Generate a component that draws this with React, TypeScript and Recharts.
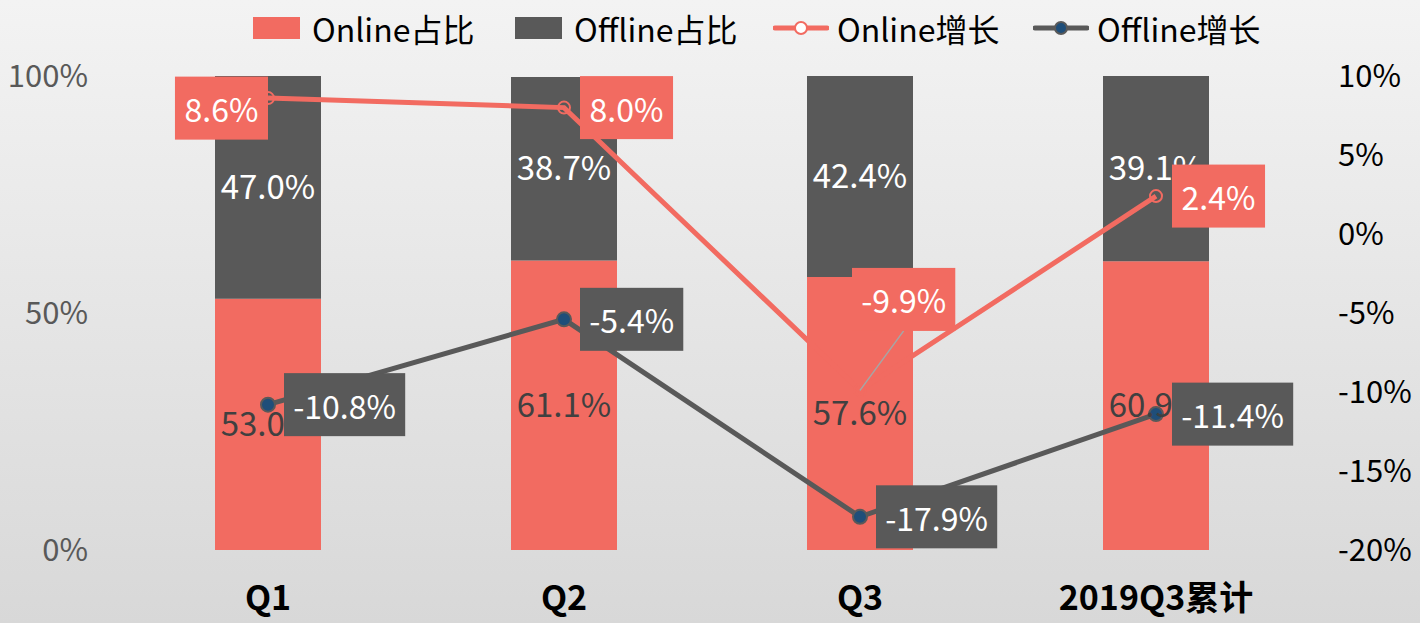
import React from "react";
import { ComposedChart, Bar, Line, XAxis, YAxis, LabelList, Legend } from "recharts";

const quarters = ["Q1", "Q2", "Q3", "2019Q3累计"];
const onlineShare = [53.0, 61.1, 57.6, 60.9];
const offlineShare = [47.0, 38.7, 42.4, 39.1];
const onlineGrowth = [8.6, 8.0, -9.9, 2.4];
const offlineGrowth = [-10.8, -5.4, -17.9, -11.4];
const shareTicks = [0, 50, 100];
const growthTicks = [-20, -15, -10, -5, 0, 5, 10];

const data = quarters.map((q, i) => ({
  name: q,
  onlineShare: onlineShare[i],
  offlineShare: offlineShare[i],
  onlineGrowth: onlineGrowth[i],
  offlineGrowth: offlineGrowth[i],
}));

const SALMON = "#f26b61";
const DARK = "#595959";
const BLUE = "#1f4e79";
const FONT = '"Noto Sans CJK SC", "Noto Sans", sans-serif';

// rough glyph widths (em) for the label boxes
const textWidth = (s: string, size: number) => {
  let w = 0;
  for (const c of s) {
    if (/[0-9]/.test(c)) w += 0.56;
    else if (c === ".") w += 0.26;
    else if (c === "%") w += 0.84;
    else if (c === "-") w += 0.32;
    else w += 0.6;
  }
  return w * size;
};

const pct = (v: number) => `${Number(v).toFixed(1)}%`;

const makeGrowthLabel = (bg: string, series: "on" | "off") => (props: any) => {
  const { x, y, value, index } = props;
  const text = pct(value);
  const w = textWidth(text, 32) + 22;
  const h = 63;
  let left = x + 16;
  let cy = y;
  let leader = false;
  if (series === "on" && index === 0) {
    left = x - w;
    cy = y + 10;
  }
  if (series === "on" && index === 2) {
    left = x - 8;
    cy = y - 91;
    leader = true;
  }
  return (
    <g>
      {leader && (
        <line x1={x} y1={y} x2={left + w / 2} y2={cy + h / 2} stroke="#a6a6a6" strokeWidth={1.5} />
      )}
      <rect x={left} y={cy - h / 2} width={w} height={h} fill={bg} />
      <text
        x={left + w / 2}
        y={cy}
        fill="#fff"
        fontSize={32}
        fontFamily={FONT}
        textAnchor="middle"
        dominantBaseline="central"
      >
        {text}
      </text>
    </g>
  );
};

const LegendBox = () => {
  const item = (left: number, marker: React.ReactNode, label: string) => (
    <div
      style={{ position: "absolute", left, top: 0, height: 56, display: "flex", alignItems: "center" }}
    >
      {marker}
      <span style={{ fontSize: 32, color: "#000", fontFamily: FONT, marginLeft: 8, lineHeight: "56px" }}>
        {label}
      </span>
    </div>
  );
  const square = (c: string) => <div style={{ width: 47, height: 22, background: c, marginRight: 4 }} />;
  const lineMark = (c: string, dotFill: string, dotStroke: string) => (
    <svg width={56} height={20}>
      <line x1={2} y1={10} x2={54} y2={10} stroke={c} strokeWidth={5} strokeLinecap="round" />
      <circle cx={28} cy={10} r={6} fill={dotFill} stroke={dotStroke} strokeWidth={2} />
    </svg>
  );
  return (
    <div style={{ position: "relative", width: 1420, height: 56 }}>
      {item(253, square(SALMON), "Online占比")}
      {item(515, square(DARK), "Offline占比")}
      {item(773, lineMark(SALMON, "#fff", SALMON), "Online增长")}
      {item(1033, lineMark(DARK, BLUE, DARK), "Offline增长")}
    </div>
  );
};

export default function App() {
  return (
    <div
      style={{
        position: "absolute",
        left: 0,
        top: 0,
        width: 1420,
        height: 623,
        background: "linear-gradient(to bottom, #f3f3f3, #d8d8d8)",
        fontFamily: FONT,
      }}
    >
      <ComposedChart
        width={1420}
        height={623}
        data={data}
        margin={{ top: 20, right: 10, bottom: 43, left: 10 }}
        barCategoryGap={0}
      >
        <Legend
          verticalAlign="top"
          align="left"
          content={() => <LegendBox />}
          wrapperStyle={{ top: 0, left: 0, width: 1420, height: 56 }}
        />
        <XAxis
          dataKey="name"
          axisLine={false}
          tickLine={false}
          tickSize={0}
          tickMargin={36}
          height={30}
          tick={{ fontSize: 34, fontWeight: "bold", fill: "#000", fontFamily: FONT }}
        />
        <YAxis
          yAxisId="left"
          domain={[0, 100]}
          ticks={shareTicks}
          tickFormatter={(v) => `${v}%`}
          axisLine={false}
          tickLine={false}
          tickSize={0}
          tickMargin={32}
          width={110}
          tick={{ fontSize: 31, fill: DARK, fontFamily: FONT }}
        />
        <YAxis
          yAxisId="right"
          orientation="right"
          domain={[-20, 10]}
          ticks={growthTicks}
          tickFormatter={(v) => `${v}%`}
          axisLine={false}
          tickLine={false}
          tickSize={0}
          tickMargin={34}
          width={106}
          tick={{ fontSize: 31, fill: "#000", fontFamily: FONT }}
        />
        <Bar yAxisId="left" dataKey="onlineShare" stackId="s" fill={SALMON} barSize={106} isAnimationActive={false}>
          <LabelList dataKey="onlineShare" position="center" formatter={(v: any) => pct(v)} fill="#404040" fontSize={33} fontFamily={FONT} />
        </Bar>
        <Bar yAxisId="left" dataKey="offlineShare" stackId="s" fill={DARK} barSize={106} isAnimationActive={false}>
          <LabelList dataKey="offlineShare" position="center" formatter={(v: any) => pct(v)} fill="#fff" fontSize={33} fontFamily={FONT} />
        </Bar>
        <Line
          yAxisId="right"
          dataKey="onlineGrowth"
          stroke={SALMON}
          strokeWidth={5}
          dot={{ r: 6, fill: "none", stroke: SALMON, strokeWidth: 2 }}
          isAnimationActive={false}
        >
          <LabelList dataKey="onlineGrowth" content={makeGrowthLabel(SALMON, "on")} />
        </Line>
        <Line
          yAxisId="right"
          dataKey="offlineGrowth"
          stroke={DARK}
          strokeWidth={5}
          dot={{ r: 7, fill: BLUE, stroke: DARK, strokeWidth: 2 }}
          isAnimationActive={false}
        >
          <LabelList dataKey="offlineGrowth" content={makeGrowthLabel(DARK, "off")} />
        </Line>
      </ComposedChart>
    </div>
  );
}
